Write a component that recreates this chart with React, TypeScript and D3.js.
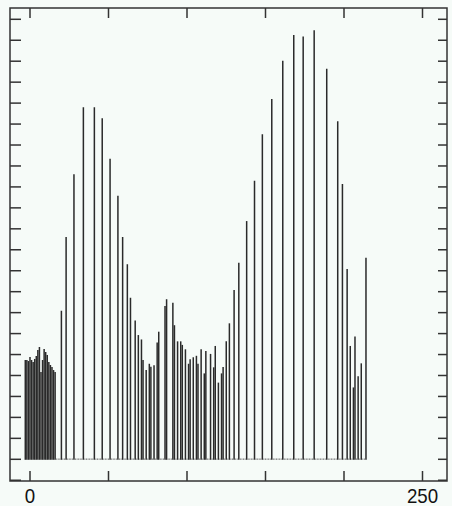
import React, { useEffect, useRef } from 'react';
import * as d3 from 'd3';

// histogram bins (value on x axis) and their counts
const binValues = [
  -3, -2, -1, 0, 1, 2, 3, 4, 5, 6, 7, 8, 9, 10, 11, 12, 13, 14, 15, 16,
  20, 23, 28, 34, 41, 46, 51, 56, 59, 62, 64, 67, 69, 71, 72, 74, 76, 77, 79, 81, 82,
  86, 87, 91, 92, 94, 96, 97, 99, 101, 102, 104, 106, 107, 109, 111, 112, 115, 117, 118,
  120, 122, 123, 125, 127, 130, 133, 138, 143, 148, 154, 161, 168, 174, 181, 189, 196,
  199, 202, 204, 206, 207, 209, 211, 214
];
const binCounts = [
  474, 474, 469, 488, 474, 464, 479, 493, 522, 536, 417, 474, 526, 512, 498, 464, 450, 441, 426, 417,
  709, 1061, 1360, 1680, 1680, 1628, 1435, 1258, 1061, 931, 771, 662, 593, 572, 474, 426, 456, 442, 449, 557, 609,
  732, 764, 747, 640, 563, 563, 546, 525, 456, 477, 487, 494, 456, 525, 410, 517, 503, 439, 541,
  366, 410, 441, 563, 649, 808, 938, 1137, 1330, 1551, 1720, 1902, 2025, 2018, 2048, 1864, 1613,
  1314, 908, 541, 343, 586, 396, 458, 962
];
const firstBin = -3;
const lastBin = 214;
const xTicks = [0, 50, 100, 150, 200, 250];
const xTickLabels = [
  { value: 0, label: '0' },
  { value: 250, label: '250' },
];
const yTicks = d3.range(-100, 2101, 100);

const W = 452;
const H = 506;
const frame = { left: 10, top: 8, right: 447, bottom: 481 };

export default function App() {
  const ref = useRef<SVGSVGElement>(null);

  useEffect(() => {
    const svg = d3.select(ref.current);
    svg.selectAll('*').remove();

    const x = d3.scaleLinear().domain([0, 250]).range([30, 422.5]);
    const y = d3.scaleLinear().domain([0, 2100]).range([459.3, 19.3]);

    svg.append('rect')
      .attr('width', W)
      .attr('height', H)
      .attr('fill', '#f6fbf8');

    // zero bins: tiny marks along the baseline
    const counts = new Map(binValues.map((b, i) => [b, binCounts[i]]));
    const zeros = d3.range(firstBin, lastBin + 1).filter(b => !counts.has(b));
    svg.append('g')
      .selectAll('line')
      .data(zeros)
      .join('line')
      .attr('x1', d => x(d))
      .attr('x2', d => x(d))
      .attr('y1', y(0) + 0.5)
      .attr('y2', y(0) - 0.8)
      .attr('stroke', '#666')
      .attr('stroke-width', 0.9);

    // spikes
    svg.append('g')
      .selectAll('line')
      .data(binValues)
      .join('line')
      .attr('x1', d => x(d))
      .attr('x2', d => x(d))
      .attr('y1', y(0) + 0.5)
      .attr('y2', (d, i) => y(binCounts[i]))
      .attr('stroke', '#2a2a2a')
      .attr('stroke-width', 1.5);

    const axis = svg.append('g').attr('stroke', '#333').attr('stroke-width', 1.5);

    axis.selectAll('line.yl')
      .data(yTicks)
      .join('line')
      .attr('class', 'yl')
      .attr('x1', frame.left)
      .attr('x2', frame.left + 11)
      .attr('y1', d => y(d))
      .attr('y2', d => y(d));

    axis.selectAll('line.yr')
      .data(yTicks)
      .join('line')
      .attr('class', 'yr')
      .attr('x1', frame.right - 9)
      .attr('x2', frame.right)
      .attr('y1', d => y(d))
      .attr('y2', d => y(d));

    axis.selectAll('line.xt')
      .data(xTicks)
      .join('line')
      .attr('class', 'xt')
      .attr('x1', d => x(d))
      .attr('x2', d => x(d))
      .attr('y1', frame.top)
      .attr('y2', frame.top + 10);

    axis.selectAll('line.xb')
      .data(xTicks)
      .join('line')
      .attr('class', 'xb')
      .attr('x1', d => x(d))
      .attr('x2', d => x(d))
      .attr('y1', frame.bottom - 10)
      .attr('y2', frame.bottom);

    axis.append('rect')
      .attr('x', frame.left)
      .attr('y', frame.top)
      .attr('width', frame.right - frame.left)
      .attr('height', frame.bottom - frame.top)
      .attr('fill', 'none');

    svg.append('g')
      .selectAll('text')
      .data(xTickLabels)
      .join('text')
      .attr('x', d => x(d.value))
      .attr('y', 503)
      .attr('text-anchor', 'middle')
      .attr('font-family', 'Liberation Sans, Arial, sans-serif')
      .attr('font-size', 21)
      .attr('fill', '#111')
      .attr('textLength', d => d.label.length * 10.4)
      .attr('lengthAdjust', 'spacingAndGlyphs')
      .text(d => d.label);
  }, []);

  return (
    <svg
      ref={ref}
      width={W}
      height={H}
      style={{ position: 'absolute', left: 0, top: 0, display: 'block' }}
    />
  );
}
